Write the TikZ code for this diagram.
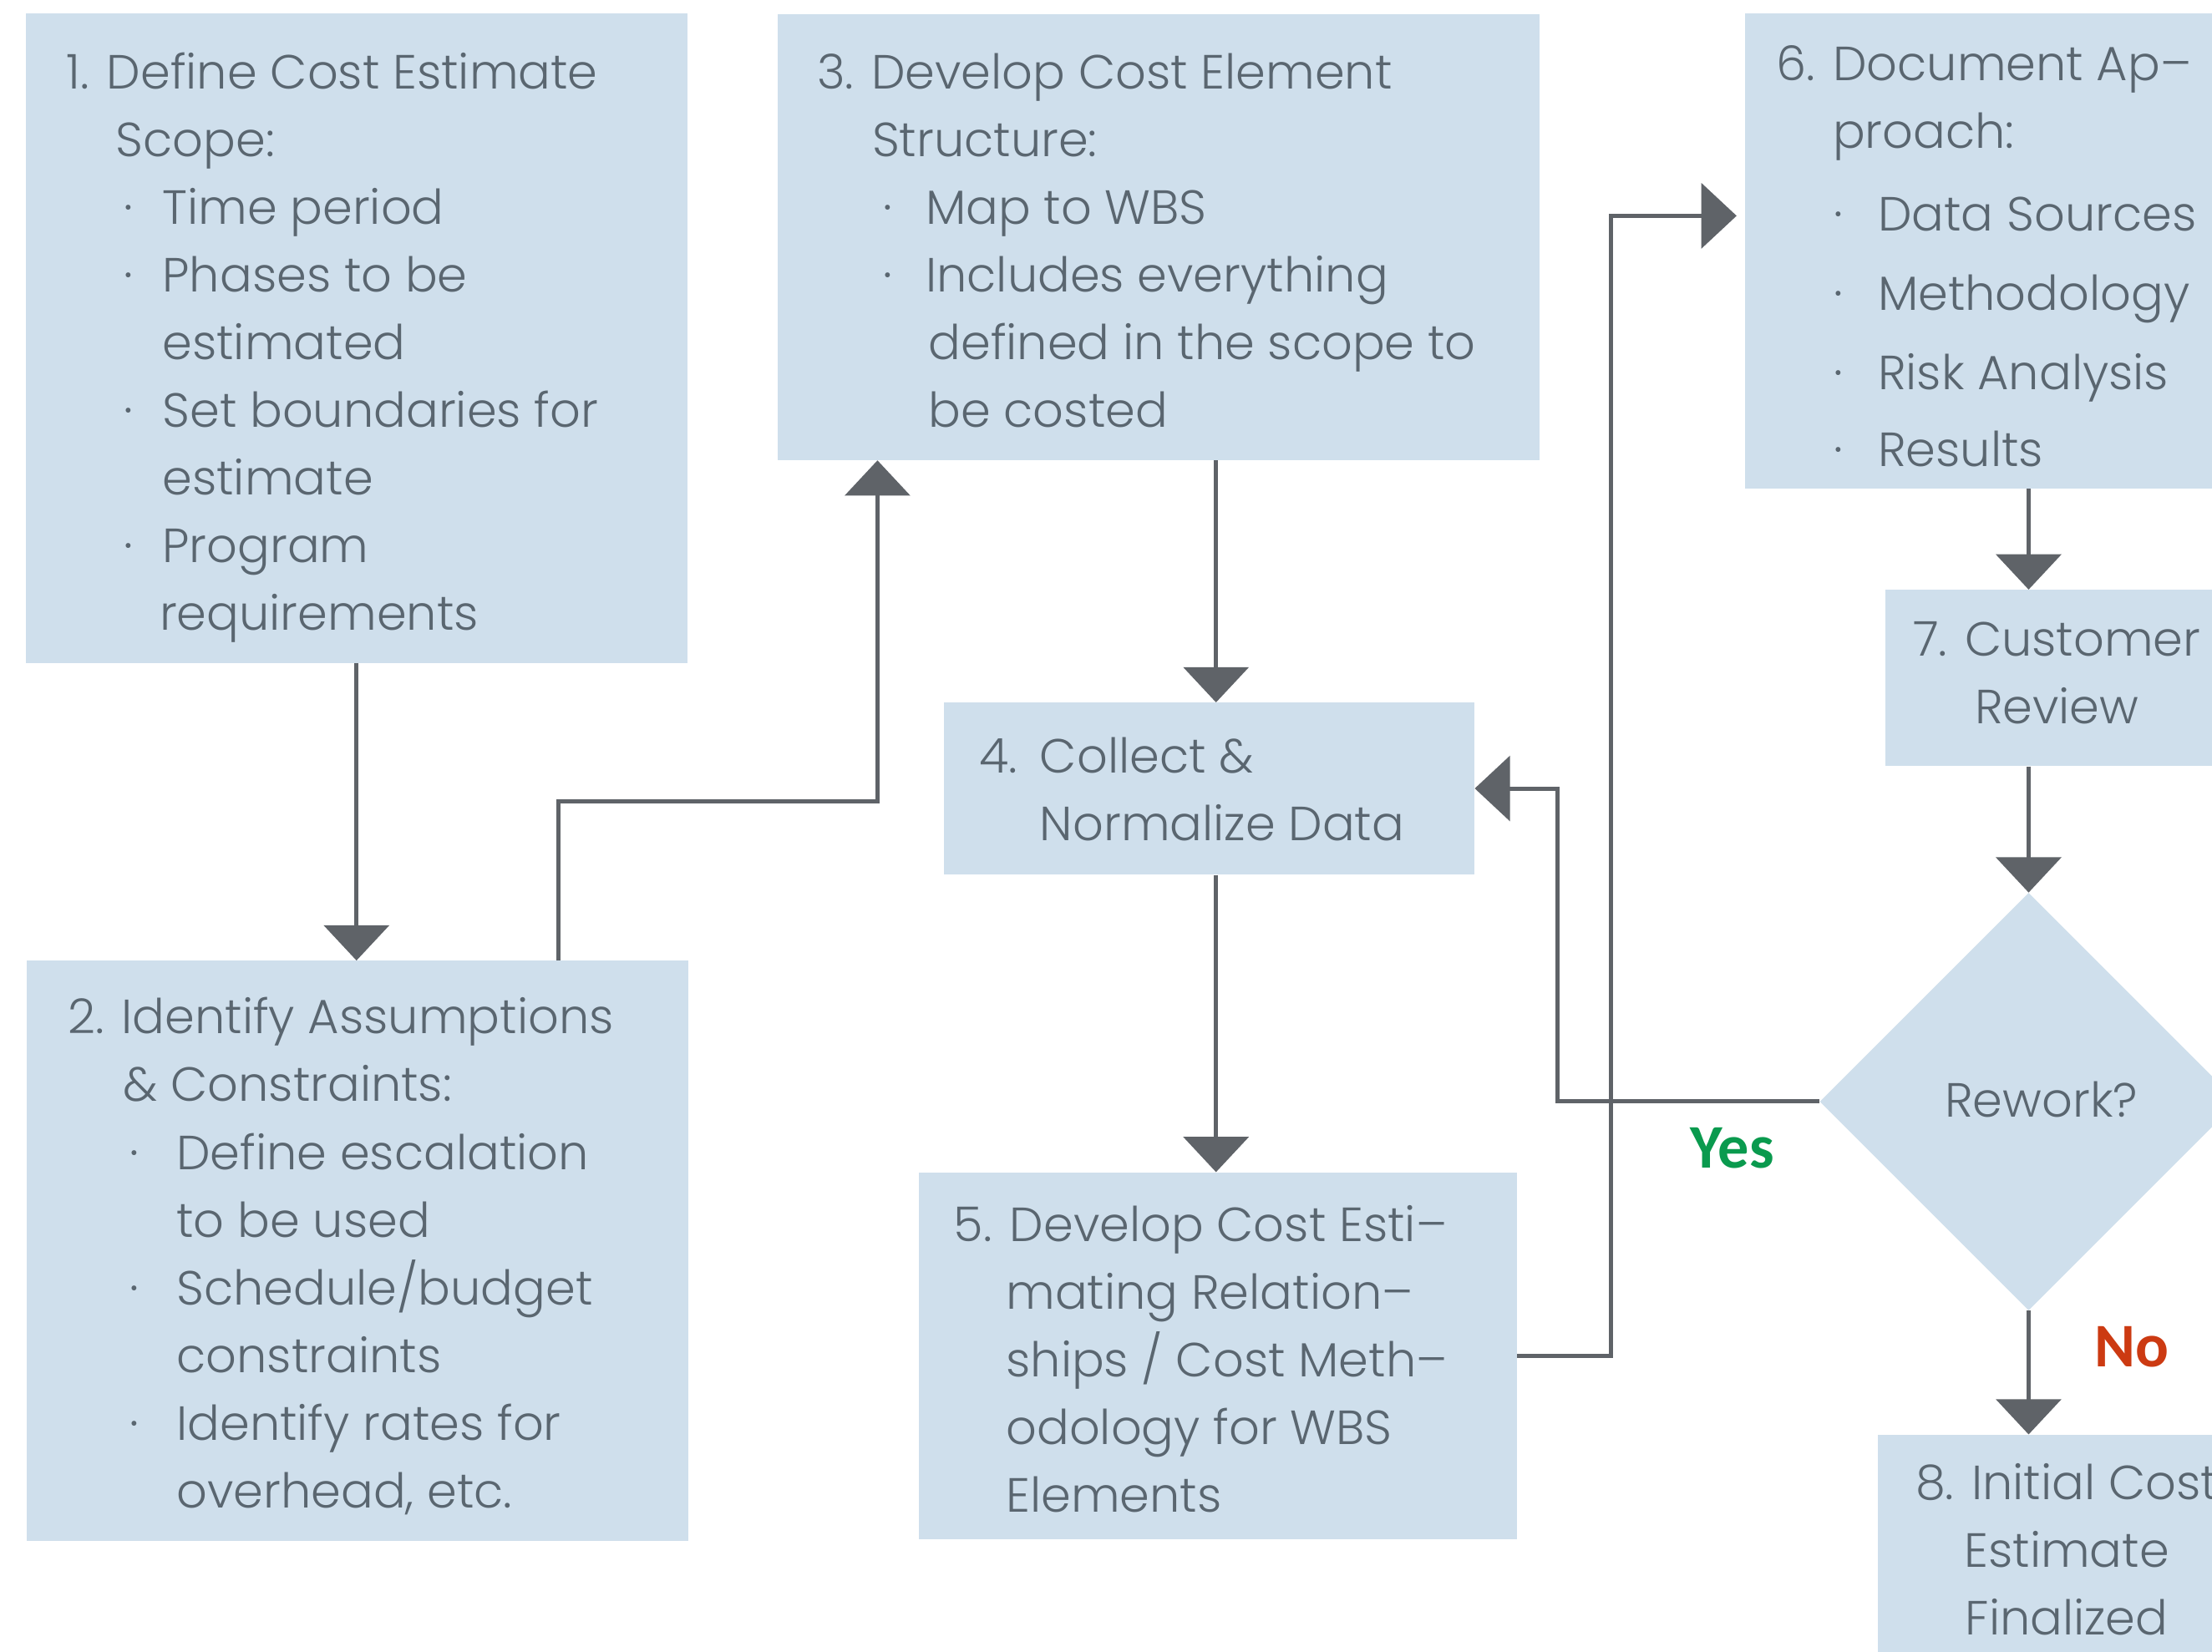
\documentclass[tikz,border=0pt]{standalone}
\usepackage{fontspec}
\setmainfont{Poppins Light}
\newfontfamily\labelfont{Carlito}
\usetikzlibrary{arrows.meta,shapes.geometric,calc}

\definecolor{boxfill}{HTML}{CFDFEC}
\definecolor{linegray}{HTML}{5F6368}
\definecolor{textgray}{HTML}{5A6670}
\definecolor{yesgreen}{HTML}{0A9A4E}
\definecolor{nored}{HTML}{CC3A12}

% one line of a text block, indented by #1 pt
\newcommand\TL[2]{\hbox{\hspace*{#1pt}#2}}
% bullet line: indent #1, bullet column width #2, text #3
\newcommand\BL[3]{\hbox{\hspace*{#1pt}\makebox[#2pt][l]{·}#3}}
% centred line
\newcommand\CL[1]{\hbox to 300pt{\hfil#1\hfil}}

\begin{document}
\begin{tikzpicture}[x=1pt,y=-1pt,
  box/.style={rectangle,fill=boxfill,draw=none,inner sep=0pt,anchor=north west},
  txt/.style={inner sep=0pt,text=textgray,font=\fontsize{34pt}{48pt}\selectfont},
  arr/.style={draw=linegray,line width=3pt,
    -{Triangle[width=46pt,length=25pt]}},
  answer/.style={inner sep=0pt,font=\labelfont\bfseries\fontsize{44pt}{44pt}\selectfont}]

\useasboundingbox (0,0) rectangle (1568,1171);
\clip (0,0) rectangle (1568,1171);
\fill[white] (0,0) rectangle (1568,1171);

% process boxes
\node[box,minimum width=469pt,minimum height=461pt] (b1) at (18,9) {};
\node[box,minimum width=469pt,minimum height=411pt] (b2) at (19,681) {};
\node[box,minimum width=540pt,minimum height=316pt] (b3) at (551,10) {};
\node[box,minimum width=376pt,minimum height=122pt] (b4) at (669,498) {};
\node[box,minimum width=424pt,minimum height=260pt] (b5) at (651,831) {};
\node[box,minimum width=400pt,minimum height=337pt] (b6) at (1237,9) {};
\node[box,minimum width=242pt,minimum height=125pt] (b7) at (1336,418) {};
\node[diamond,fill=boxfill,inner sep=0pt,shape aspect=1,
      minimum width=296pt,minimum height=296pt] (d) at (1438,781) {};
\node[box,minimum width=268pt,minimum height=200pt] (b8) at (1331,1017) {};

% box texts
\node[txt,anchor=base west] (t1) at (47,63) {\vtop{%
  \TL{0}{1. Define Cost Estimate}
  \TL{35}{Scope:}
  \BL{41}{27}{Time period}
  \BL{41}{27}{Phases to be}
  \TL{68}{estimated}
  \BL{41}{27}{Set boundaries for}
  \TL{68}{estimate}
  \BL{41}{27}{Program}
  \TL{66}{requirements}}};

\node[txt,anchor=base west] (t2) at (48,733) {\vtop{%
  \TL{0}{2. Identify Assumptions}
  \TL{39}{\& Constraints:}
  \BL{44}{33}{Define escalation}
  \TL{77}{to be used}
  \BL{44}{33}{Schedule/budget}
  \TL{77}{constraints}
  \BL{44}{33}{Identify rates for}
  \TL{77}{overhead, etc.}}};

\node[txt,anchor=base west] (t3) at (579,63) {\vtop{%
  \TL{0}{3. Develop Cost Element}
  \TL{39}{Structure:}
  \BL{47}{30}{Map to WBS}
  \BL{47}{30}{Includes everything}
  \TL{79}{defined in the scope to}
  \TL{79}{be costed}}};

\node[txt,anchor=base west] (t4) at (694,548) {\vtop{%
  \TL{0}{\makebox[43pt][l]{4.}Collect \&}
  \TL{43}{Normalize Data}}};

\node[txt,anchor=base west] (t5) at (676,880) {\vtop{%
  \TL{0}{5. Develop Cost Esti–}
  \TL{37}{mating Relation–}
  \TL{37}{ships / Cost Meth–}
  \TL{37}{odology for WBS}
  \TL{37}{Elements}}};

\node[txt,anchor=base west] (t6) at (1259,57) {\vtop{%
  \TL{0}{6. Document Ap–}
  \TL{40}{proach:}
  \vskip 11pt
  \BL{41}{31}{Data Sources}
  \vskip 8pt
  \BL{41}{31}{Methodology}
  \vskip 8pt
  \BL{41}{31}{Risk Analysis}
  \vskip 7pt
  \BL{41}{31}{Results}}};

\node[txt,anchor=base] (t7) at (1458,465) {\vtop{\CL{7. Customer}\CL{Review}}};
\node[txt,anchor=base] (t8) at (1465,1063) {\vtop{\CL{8. Initial Cost}\CL{Estimate}\CL{Finalized}}};
\node[txt,anchor=base] (td) at (1447,792) {Rework?};

% bend points of the connectors
\coordinate (c) at (862,0);
\coordinate (p2) at (396,568);
\coordinate (q5) at (1142,153);
\coordinate (ry) at (1104,559);

% connectors
\draw[arr] (b1.south) -- (b1.south |- b2.north);
\draw[arr] (b2.north -| p2) -- (p2) -| ($(b3.south west)+(71,0)$);
\draw[arr] (b3.south -| c) -- (b4.north -| c);
\draw[arr] (b4.south -| c) -- (b5.north -| c);
\draw[arr] (b5.east) -| (q5) -- ($(b6.west |- q5)+(-6,0)$);
\draw[arr] (b6.south -| d) -- (b7.north -| d);
\draw[arr] (b7.south -| d) -- (d.north);
\draw[arr] (d.west) -| (ry) -- (b4.east |- ry);
\draw[arr] (d.south) -- (b8.north -| d);

% decision labels
\node[answer,text=yesgreen] (ly) at (1228,814) {Yes};
\node[answer,text=nored] (ln) at (1511,955) {No};
\end{tikzpicture}
\end{document}
